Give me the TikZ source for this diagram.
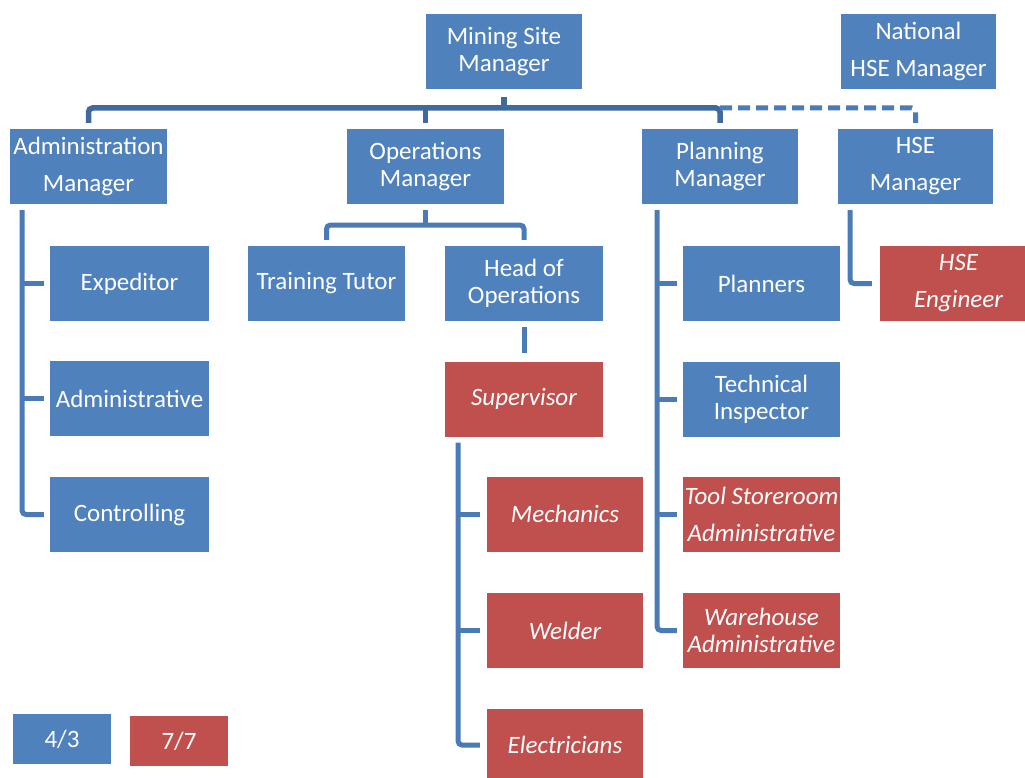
\documentclass[tikz,border=0pt]{standalone}
\usepackage{fontspec}
\setmainfont{Carlito}
\usetikzlibrary{calc}
\definecolor{boxblue}{RGB}{79,129,189}
\definecolor{boxred}{RGB}{192,80,77}
\definecolor{lineblue}{RGB}{74,123,182}
\definecolor{bardark}{RGB}{64,106,158}
\tikzset{
  base/.style={inner sep=0pt, align=center, text=white, font=\fontsize{25}{27}\selectfont, minimum height=75pt},
  bbox/.style={base, fill=boxblue},
  rbox/.style={base, fill=boxred, font=\fontsize{25}{27}\selectfont\itshape},
  conn/.style={draw=lineblue, line width=5pt, rounded corners=4pt},
  topconn/.style={conn, draw=bardark, line width=5.5pt},
  dashconn/.style={conn, dash pattern=on 12pt off 6pt},
}
\begin{document}
\begin{tikzpicture}[x=1pt,y=-1pt]
\useasboundingbox (0,0) rectangle (1025,778);
% coordinates of the connector rails
\coordinate (bar) at (0,108);
\coordinate (obar) at (0,225);
\coordinate (avx) at (22,0);
\coordinate (svx) at (458,0);
\coordinate (pvx) at (657,0);
\coordinate (hvx) at (850,0);
% level 0
\node[bbox, minimum width=156pt] (msm) at (504,51.5) {Mining Site\\Manager};
\node[bbox, minimum width=155pt] (nhse) at (918.5,51.5) {National\\[10pt]HSE Manager};
% level 1
\node[bbox, minimum width=157pt] (adm) at (88.5,166.5) {Administration\\[10pt]Manager};
\node[bbox, minimum width=157pt] (ops) at (425.5,166.5) {Operations\\Manager};
\node[bbox, minimum width=156pt] (plan) at (720,166.5) {Planning\\Manager};
\node[bbox, minimum width=155pt] (hsem) at (915.5,166.5) {HSE\\[10pt]Manager};
% admin column
\node[bbox, minimum width=159pt] (exp) at (129.5,283.5) {Expeditor};
\node[bbox, minimum width=159pt] (admv) at (129.5,398.5) {Administrative};
\node[bbox, minimum width=159pt] (ctrl) at (129.5,514.5) {Controlling};
% operations
\node[bbox, minimum width=157pt] (tt) at (326.5,283.5) {Training Tutor};
\node[bbox, minimum width=158pt] (hoo) at (524,283.5) {Head of\\Operations};
\node[rbox, minimum width=158pt] (sup) at (524,399) {Supervisor};
\node[rbox, minimum width=156pt] (mech) at (565,514) {Mechanics};
\node[rbox, minimum width=156pt] (weld) at (565,630.5) {Welder};
\node[rbox, minimum width=156pt, minimum height=72pt] (elec) at (565,745) {Electricians};
% planning
\node[bbox, minimum width=157pt] (planr) at (761.5,283.5) {Planners};
\node[bbox, minimum width=157pt] (tech) at (761.5,399) {Technical\\Inspector};
\node[rbox, minimum width=157pt] (tool) at (761.5,514) {Tool Storeroom\\[10pt]Administrative};
\node[rbox, minimum width=157pt] (ware) at (761.5,630.5) {Warehouse\\Administrative};
% HSE
\node[rbox, minimum width=157pt] (hseeng) at (958.5,283.5) {HSE\\[10pt]Engineer};
% legend
\node[bbox, minimum width=98pt, minimum height=50pt] (l43) at (62,739) {4/3};
\node[rbox, minimum width=98pt, minimum height=50pt, font=\fontsize{25}{27}\selectfont] (l77) at (179,741) {7/7};
% top connectors
\draw[topconn, shorten <=8pt] (msm.south) -- (msm.south |- bar);
\draw[topconn, shorten <=6pt, shorten >=6pt] (adm.north) -- (adm.north |- bar) -- (plan.north |- bar) -- (plan.north);
\draw[topconn, shorten >=6pt] (ops.north |- bar) -- (ops.north);
\draw[dashconn, shorten >=6pt] (plan.north |- bar) -- (hsem.north |- bar) -- (hsem.north);
% operations subtree
\draw[conn, shorten <=6pt] (ops.south) -- (ops.south |- obar);
\draw[conn, shorten <=6pt, shorten >=6pt] (tt.north) -- (tt.north |- obar) -- (hoo.north |- obar) -- (hoo.north);
\draw[conn, rounded corners=0pt, shorten <=6pt, shorten >=8pt] (hoo.south) -- (sup.north);
% admin rail
\draw[conn, shorten <=6pt, shorten >=6pt] (adm.south -| avx) -- (avx |- ctrl.west) -- (ctrl.west);
\draw[conn, shorten >=6pt] (avx |- exp.west) -- (exp.west);
\draw[conn, shorten >=6pt] (avx |- admv.west) -- (admv.west);
% supervisor rail
\draw[conn, shorten <=6pt, shorten >=7pt] (sup.south -| svx) -- (svx |- elec.west) -- (elec.west);
\draw[conn, shorten >=7pt] (svx |- mech.west) -- (mech.west);
\draw[conn, shorten >=7pt] (svx |- weld.west) -- (weld.west);
% planning rail
\draw[conn, shorten <=6pt, shorten >=6pt] (plan.south -| pvx) -- (pvx |- ware.west) -- (ware.west);
\draw[conn, shorten >=6pt] (pvx |- planr.west) -- (planr.west);
\draw[conn, shorten >=6pt] (pvx |- tech.west) -- (tech.west);
\draw[conn, shorten >=6pt] (pvx |- tool.west) -- (tool.west);
% HSE rail
\draw[conn, shorten <=6pt, shorten >=8pt] (hsem.south -| hvx) -- (hvx |- hseeng.west) -- (hseeng.west);
\end{tikzpicture}
\end{document}
